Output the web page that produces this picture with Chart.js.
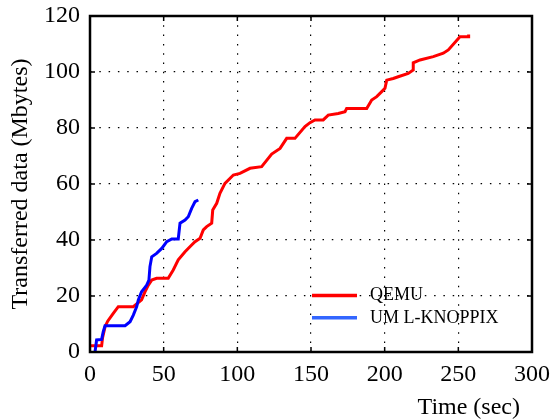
<!DOCTYPE html>
<html>
<head>
<meta charset="utf-8">
<script src="https://cdn.jsdelivr.net/npm/chart.js@4"></script>
<style>
  html, body { margin: 0; padding: 0; background: #fff; }
  #wrap { width: 552px; height: 420px; }
</style>
</head>
<body>
<div id="wrap"><canvas id="chart" width="552" height="420"></canvas></div>
<script>
// QEMU transfer (sec, Mbytes)
var qemuTime = [0, 7.9, 8.5, 10.2, 12, 15.8, 19.2, 29.4, 35, 37.3, 39.6, 41.9, 45.2, 53.1, 56.5, 59.9,
    64.5, 69, 71.3, 74.7, 76.9, 79.2, 82.6, 83.3, 86, 88.2, 91.6, 97.3, 101.8, 108.6, 116.5, 123.3,
    129, 133.5, 139.1, 145.9, 149.3, 152.7, 158.3, 161.7, 168.5, 173.1, 174.2, 187.8, 191.2, 194.6,
    198, 200.2, 201.4, 205.8, 209.2, 216, 219.4, 219.4, 224, 233, 239.8, 243.2, 251.1, 256.8, 257]
var qemuData = [2.2, 2.2, 5, 9, 11, 13.8, 16.2, 16.2, 18.6, 21.5, 23.9, 25.7, 26.3, 26.3, 29.3, 32.9,
    35.8, 38.2, 39.4, 40.6, 43.6, 44.8, 46, 50.7, 53.1, 56.7, 60.2, 63.2, 63.8, 65.6, 66.2, 70.7,
    72.7, 76.3, 76.3, 80.5, 81.9, 82.9, 82.9, 84.6, 85.2, 85.8, 87, 87, 90, 91.2,
    93, 94.2, 97.1, 97.7, 98.3, 99.5, 100.7, 103.3, 104.3, 105.5, 106.7, 107.9, 112.6, 112.6, 113.4]

// UML-KNOPPIX transfer
var umlTime = [3.4, 4.5, 7.9, 9, 10.2, 23.8, 27.2, 29.4, 31.7, 32.8, 35, 38.5, 40, 40.7, 41.9, 45.2,
    48.7, 52.1, 55.5, 59.9, 61.1, 64.5, 66.7, 69, 71.3, 73.5]
var umlData = [0, 4.3, 4.5, 7.3, 9.4, 9.4, 10.8, 13.2, 16.2, 18.6, 21.5, 23.9, 25.7, 30.5, 34, 35.2,
    37, 39.4, 40.4, 40.4, 46, 47.1, 48.3, 51.3, 53.7, 54.3]

var seriesNames = ['QEMU', 'UML-KNOPPIX']
var legendLabels = ['QEMU', 'UM L-KNOPPIX']
var xTicks = [0, 50, 100, 150, 200, 250, 300]
var yTicks = [0, 20, 40, 60, 80, 100, 120]

var serif = "'Liberation Serif', 'Times New Roman', serif"

function toPoints(xs, ys) {
    return xs.map(function(x, i) {
        return { x: x, y: ys[i] }
    })
}

// frame, inward ticks and the in-plot legend
var framePlugin = {
    id: 'frame',
    afterDatasetsDraw: function(chart) {
        var ctx = chart.ctx
        var a = chart.chartArea
        var xs = chart.scales.x, ys = chart.scales.y
        ctx.save()
        ctx.strokeStyle = '#000'
        ctx.lineWidth = 1.5
        ctx.beginPath()
        xTicks.forEach(function(v) {
            var px = xs.getPixelForValue(v)
            ctx.moveTo(px, a.bottom); ctx.lineTo(px, a.bottom - 5)
            ctx.moveTo(px, a.top); ctx.lineTo(px, a.top + 5)
        })
        yTicks.forEach(function(v) {
            var py = ys.getPixelForValue(v)
            ctx.moveTo(a.left, py); ctx.lineTo(a.left + 5, py)
            ctx.moveTo(a.right, py); ctx.lineTo(a.right - 5, py)
        })
        ctx.stroke()
        ctx.lineWidth = 2.5
        ctx.strokeRect(a.left, a.top, a.right - a.left, a.bottom - a.top)

        // legend
        var colors = ['#ff0000', '#3366ff']
        var lx = xs.getPixelForValue(150)
        var rows = [ys.getPixelForValue(20.2), ys.getPixelForValue(12.2)]
        ctx.lineWidth = 3.5
        ctx.font = '18px ' + serif
        ctx.textBaseline = 'middle'
        ctx.fillStyle = '#000'
        legendLabels.forEach(function(label, i) {
            ctx.strokeStyle = colors[i]
            ctx.beginPath()
            ctx.moveTo(lx + 1, rows[i]); ctx.lineTo(lx + 46, rows[i])
            ctx.stroke()
            ctx.fillText(label, lx + 59, rows[i])
        })
        ctx.restore()
    }
}

var chart = new Chart(document.getElementById('chart'), {
    type: 'line',
    data: {
        datasets: [{
            label: seriesNames[0],
            data: toPoints(qemuTime, qemuData),
            borderColor: '#ff0000',
            borderWidth: 3,
            pointRadius: 0,
            tension: 0,
            fill: false,
            order: 1
        }, {
            label: seriesNames[1],
            data: toPoints(umlTime, umlData),
            borderColor: '#0000ff',
            borderWidth: 3,
            pointRadius: 0,
            tension: 0,
            fill: false,
            order: 0
        }]
    },
    options: {
        responsive: false,
        animation: false,
        layout: { padding: { top: 16, right: 20, bottom: 0, left: 0 } },
        plugins: {
            legend: { display: false },
            tooltip: { enabled: false }
        },
        scales: {
            x: {
                type: 'linear',
                min: 0,
                max: 300,
                afterBuildTicks: function(scale) {
                    scale.ticks = xTicks.map(function(v) { return { value: v } })
                },
                afterFit: function(scale) {
                    scale.height = 68
                    scale.paddingLeft = 0
                    scale.paddingRight = 0
                },
                grid: { color: '#000', lineWidth: 1.2, drawTicks: false },
                border: { display: false, dash: [1.5, 7.8] },
                ticks: { color: '#000', padding: 8, maxRotation: 0, font: { family: serif, size: 24 } },
                title: {
                    display: true,
                    // trailing space pulls the title in from the right edge a little
                    text: 'Time (sec)\u2002',
                    align: 'end',
                    color: '#000',
                    padding: 0,
                    font: { family: serif, size: 24, lineHeight: 1 }
                }
            },
            y: {
                min: 0,
                max: 120,
                afterBuildTicks: function(scale) {
                    scale.ticks = yTicks.map(function(v) { return { value: v } })
                },
                afterFit: function(scale) {
                    scale.width = 90
                    scale.paddingTop = 0
                    scale.paddingBottom = 0
                },
                grid: { color: '#000', lineWidth: 1.2, drawTicks: false },
                border: { display: false, dash: [1.5, 7.8] },
                ticks: { color: '#000', padding: 10, font: { family: serif, size: 24 } },
                title: {
                    display: true,
                    text: 'Transferred data (Mbytes)',
                    color: '#000',
                    padding: { top: 9, bottom: 0 },
                    font: { family: serif, size: 24, lineHeight: 1 }
                }
            }
        }
    },
    plugins: [framePlugin]
})
</script>
</body>
</html>
